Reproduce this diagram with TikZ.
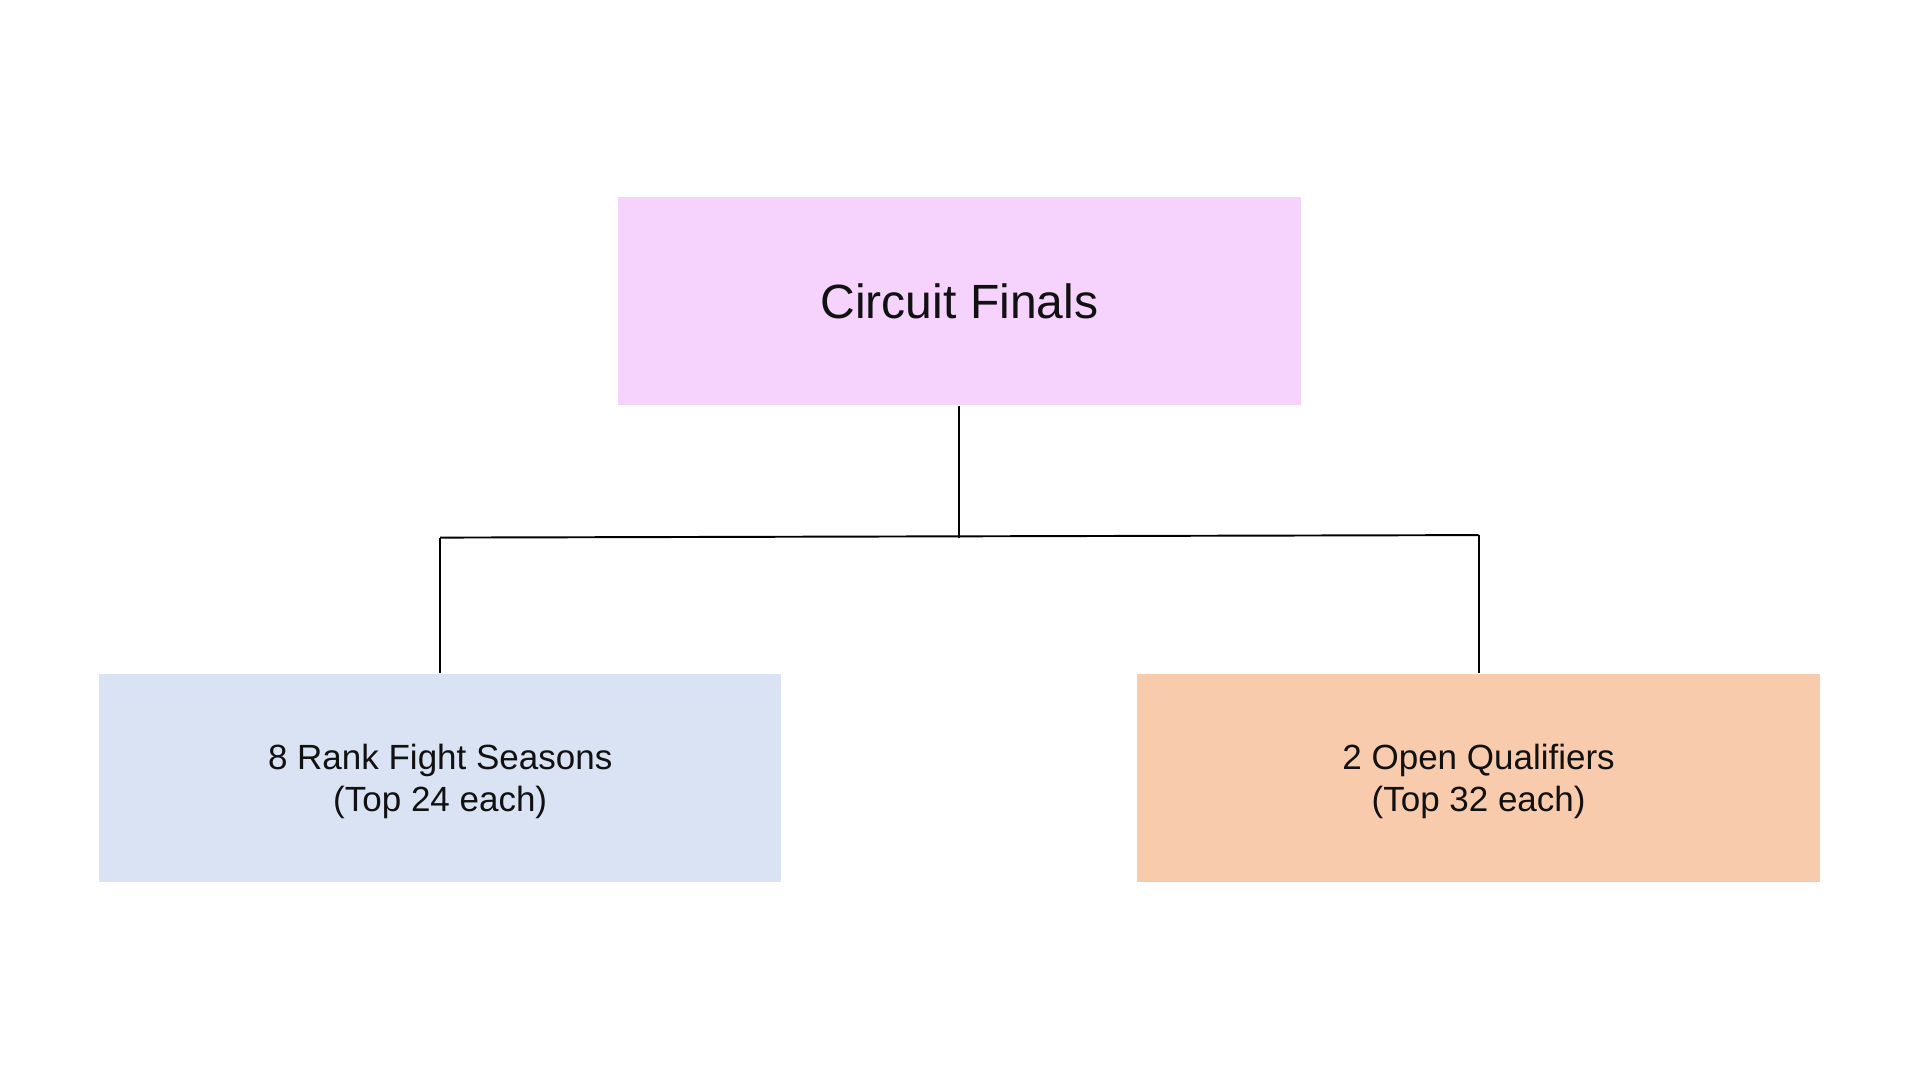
\documentclass[tikz,border=0pt]{standalone}
\usepackage{fontspec}
\setmainfont{Liberation Sans}
\definecolor{topfill}{HTML}{F5D3FD}
\definecolor{leftfill}{HTML}{DAE3F3}
\definecolor{rightfill}{HTML}{F8CBAD}
\definecolor{txt}{HTML}{111111}
\tikzset{
  box/.style={rectangle, draw=none, minimum width=6.82cm, minimum height=2.08cm, inner sep=0pt, align=center, text=txt},
  subbox/.style={box, text depth=0pt, font=\fontsize{9.95pt}{12pt}\selectfont},
  link/.style={draw=black, line width=0.55pt},
}
\begin{document}
\begin{tikzpicture}[x=0.01cm,y=-0.01cm]
\useasboundingbox[fill=white] (0,0) rectangle (1920,1080);
\node[box, fill=topfill, font=\fontsize{13.66pt}{16.4pt}\selectfont] (top) at (959.4,301.2) {Circuit Finals};
\node[subbox, fill=leftfill] (left) at (440.2,778.0) {8 Rank Fight Seasons\\(Top 24 each)};
\node[subbox, fill=rightfill] (right) at (1478.6,778.0) {2 Open Qualifiers\\(Top 32 each)};
\coordinate (L) at (440.2,537.6);
\coordinate (R) at (1478.6,535.1);
\coordinate (J) at (958.8,538.5);
\draw[link] (L) -- (R);
\draw[link] (top.south -| J) -- (J);
\draw[link] (L) -- (left.north);
\draw[link] (R) -- (right.north);
\end{tikzpicture}
\end{document}
